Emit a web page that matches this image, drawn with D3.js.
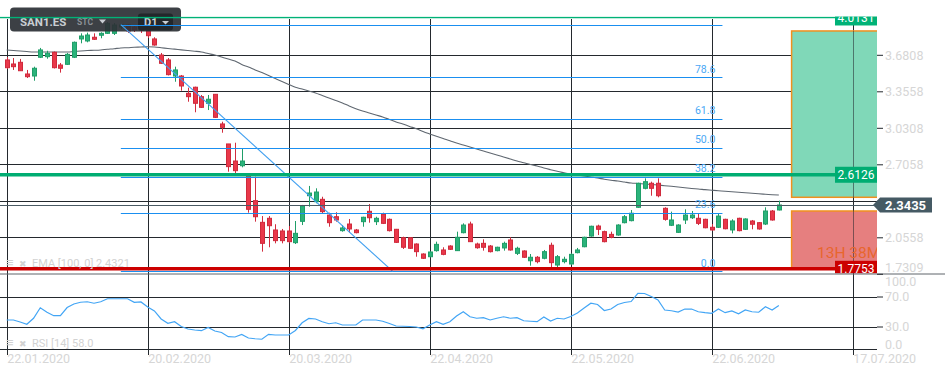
<!DOCTYPE html>
<html>
<head>
<meta charset="utf-8">
<script src="https://d3js.org/d3.v7.min.js"></script>
<style>
  body { margin: 0; background: #fff; }
  svg { display: block; font-family: Roboto, "Liberation Sans", sans-serif; }
</style>
</head>
<body>
<div class="chart"></div>
<script>
// daily candles, SAN1.ES  [open, high, low, close]
const candles = [
  [3.635,3.661,3.555,3.566],[3.599,3.652,3.546,3.575],[3.614,3.644,3.537,3.539],[3.510,3.546,3.474,3.486],
  [3.492,3.575,3.450,3.561],[3.659,3.742,3.652,3.724],[3.664,3.717,3.646,3.694],[3.703,3.710,3.559,3.566],
  [3.590,3.608,3.522,3.561],[3.596,3.697,3.590,3.685],[3.659,3.799,3.652,3.792],[3.822,3.872,3.783,3.848],
  [3.804,3.878,3.792,3.857],[3.837,3.872,3.813,3.819],[3.855,3.881,3.828,3.872],[3.872,3.973,3.866,3.961],
  [3.872,3.964,3.857,3.946],[3.928,3.955,3.911,3.946],[3.946,3.951,3.875,3.893],[3.928,3.946,3.884,3.902],
  [3.937,3.946,3.875,3.902],[3.902,3.920,3.831,3.851],[3.822,3.837,3.762,3.768],[3.679,3.697,3.599,3.605],
  [3.635,3.652,3.497,3.504],[3.492,3.575,3.441,3.546],[3.492,3.501,3.361,3.403],[3.338,3.388,3.263,3.308],
  [3.392,3.397,3.169,3.249],[3.308,3.323,3.207,3.213],[3.249,3.323,3.189,3.285],[3.329,3.332,3.118,3.124],
  [3.065,3.085,2.987,3.035],[2.887,2.887,2.640,2.685],[2.735,2.898,2.626,2.649],[2.693,2.842,2.679,2.735],
  [2.617,2.617,2.275,2.305],[2.382,2.596,2.195,2.239],[2.189,2.245,1.928,2.002],[2.225,2.245,1.967,2.159],
  [2.121,2.172,2.002,2.026],[2.112,2.130,2.002,2.026],[2.112,2.156,2.008,2.017],[2.008,2.201,1.996,2.091],
  [2.198,2.344,2.165,2.335],[2.426,2.513,2.328,2.450],[2.373,2.492,2.359,2.459],[2.394,2.417,2.269,2.284],
  [2.254,2.275,2.150,2.186],[2.239,2.279,2.195,2.210],[2.115,2.165,2.106,2.139],[2.174,2.219,2.097,2.130],
  [2.121,2.130,2.091,2.097],[2.195,2.239,2.150,2.234],[2.287,2.352,2.186,2.230],[2.195,2.239,2.165,2.225],
  [2.263,2.275,2.174,2.180],[2.216,2.223,2.108,2.115],[2.127,2.130,2.005,2.011],[2.052,2.061,1.952,1.967],
  [2.052,2.058,1.952,1.958],[1.996,2.002,1.883,1.928],[1.907,1.913,1.863,1.869],[1.883,1.931,1.878,1.925],
  [1.937,2.017,1.928,1.993],[1.943,1.967,1.896,1.904],[1.978,1.985,1.943,1.949],[1.937,2.106,1.934,2.056],
  [2.097,2.180,2.091,2.165],[2.174,2.195,2.014,2.017],[1.996,2.008,1.954,1.963],[2.002,2.038,1.937,1.967],
  [1.978,1.987,1.921,1.928],[1.937,1.972,1.931,1.967],[1.961,2.017,1.937,2.002],[2.032,2.056,1.937,1.943],
  [1.913,1.972,1.898,1.958],[1.934,1.940,1.872,1.878],[1.847,1.907,1.803,1.878],[1.878,1.889,1.824,1.839],
  [1.869,1.943,1.860,1.928],[1.985,2.008,1.780,1.830],[1.809,1.898,1.776,1.883],[1.839,1.883,1.824,1.860],
  [1.818,1.913,1.809,1.904],[1.919,1.961,1.913,1.943],[1.972,2.061,1.967,2.056],[2.067,2.159,2.061,2.154],
  [2.156,2.168,2.076,2.127],[2.106,2.115,2.011,2.017],[2.082,2.106,2.047,2.056],[2.076,2.172,2.070,2.165],
  [2.186,2.254,2.180,2.239],[2.204,2.299,2.198,2.270],[2.323,2.542,2.317,2.537],[2.492,2.581,2.483,2.551],
  [2.537,2.551,2.426,2.492],[2.537,2.581,2.412,2.426],[2.314,2.323,2.204,2.216],[2.163,2.284,2.156,2.210],
  [2.100,2.172,2.094,2.165],[2.210,2.305,2.174,2.254],[2.230,2.290,2.219,2.254],[2.225,2.263,2.165,2.180],
  [2.216,2.221,2.136,2.141],[2.145,2.174,2.115,2.121],[2.145,2.270,2.139,2.245],[2.216,2.221,2.127,2.132],
  [2.121,2.216,2.091,2.201],[2.225,2.230,2.109,2.115],[2.127,2.225,2.121,2.219],[2.201,2.210,2.127,2.172],
  [2.186,2.192,2.124,2.130],[2.174,2.323,2.165,2.290],[2.290,2.299,2.204,2.210],[2.299,2.382,2.295,2.3435]
];

const ema100 = [
  3.724,3.719,3.715,3.710,3.706,3.706,3.706,3.706,3.706,3.706,3.710,3.715,3.719,3.721,3.724,3.730,
  3.735,3.742,3.744,3.748,3.750,3.753,3.750,3.744,3.737,3.731,3.725,3.719,3.713,3.706,3.692,3.679,
  3.661,3.643,3.626,3.594,3.572,3.546,3.523,3.497,3.470,3.443,3.417,3.392,3.376,3.359,3.341,3.318,
  3.296,3.274,3.252,3.225,3.201,3.181,3.163,3.145,3.127,3.105,3.083,3.065,3.043,3.023,2.998,2.976,
  2.955,2.935,2.916,2.895,2.878,2.860,2.842,2.824,2.806,2.789,2.771,2.753,2.735,2.720,2.704,2.691,
  2.673,2.658,2.644,2.630,2.620,2.611,2.602,2.593,2.584,2.573,2.564,2.557,2.548,2.539,2.535,2.530,
  2.526,2.521,2.515,2.510,2.504,2.497,2.490,2.486,2.480,2.475,2.470,2.466,2.461,2.457,2.452,2.448,
  2.443,2.439,2.435,2.4321
];

const rsi14 = [
  38.7,38.7,36,33,41,55,49,44.4,44.4,55.3,60,62.3,63,61,63,67,
  67,67,67,62.3,62.7,56,50.7,40,34.3,36.4,30,26.7,25.3,24.4,28.7,24,
  22,16.4,16,19.3,14.7,13.7,13,19.6,18.7,18.7,18.7,24.7,35,40.7,40,36.4,
  33.7,35,32,32,32,38.7,38.7,38.7,37,34,30.7,30.3,30,29.3,27,32,
  36.4,33,36.4,44,49.7,43,41,41.7,38.7,41,43,41,41.7,37.7,37,36.4,
  42.7,37.3,41,40,43.3,48,54.7,61,59.3,51.3,53.3,59.3,62,63.3,74.3,74,
  70,65.3,52,51,49.3,53.3,53.3,49.7,48.4,47.6,53.3,48.4,50.7,47,52,49.7,
  49,56.4,52,58
];

const dateLabels = ['22.01.2020', '20.02.2020', '20.03.2020', '22.04.2020', '22.05.2020', '22.06.2020', '17.07.2020'];
const dateIdx = [0, 21, 42, 63, 84, 105, 126];
const priceTicks = [3.6808, 3.3558, 3.0308, 2.7058, 2.3808, 2.0558, 1.7309];
const rsiTicks = [100, 70, 30, 0];

const fibLevels = [0, 23.6, 38.2, 50, 61.8, 78.6, 100];
const fibLow = 1.752, fibHigh = 3.95;
const fibFrom = 17, fibTo = 106.6, trendTo = 57.5;   // bar positions

const levelLines = [4.0131, 2.6126, 1.7753];
const lastPrice = 2.3435;
const takeProfit = [2.412, 3.893];
const stopLoss = [1.7753, 2.290];
const zoneFrom = 116.9;
const countdown = '13H 38M';

const W = 945, H = 376;
const paneR = 877, priceTop = 16.5, priceBot = 273.8;

const svg = d3.select('.chart').append('svg')
  .attr('width', W).attr('height', H);

const x = d3.scaleLinear().domain([0, 126]).range([6.7, 852.7]);
const y = d3.scaleLinear().domain([2.0558, 3.6808]).range([237.3, 54.8]);
const yR = d3.scaleLinear().domain([0, 100]).range([349, 274]);
const fmt4 = d3.format('.4f');
const crisp = v => Math.round(v) + 0.5;

svg.append('defs').append('clipPath').attr('id', 'pane')
  .append('rect').attr('x', 0).attr('y', priceTop)
  .attr('width', paneR).attr('height', priceBot - priceTop - 0.5);

//grid
const grid = svg.append('g').attr('stroke', '#24292e').attr('stroke-width', 1);
grid.selectAll('line.h').data(priceTicks.slice(0, -1)).join('line')
  .attr('x1', 0).attr('x2', paneR)
  .attr('y1', d => crisp(y(d))).attr('y2', d => crisp(y(d)));
grid.selectAll('line.r').data([70, 30]).join('line')
  .attr('x1', 0).attr('x2', paneR)
  .attr('y1', d => crisp(yR(d))).attr('y2', d => crisp(yR(d)));
grid.append('line').attr('x1', 0).attr('x2', paneR)
  .attr('y1', crisp(yR(0))).attr('y2', crisp(yR(0)));
grid.selectAll('line.v').data(dateIdx).join('line')
  .attr('x1', d => crisp(x(d))).attr('x2', d => crisp(x(d)))
  .attr('y1', 19).attr('y2', 355);

const plot = svg.append('g').attr('clip-path', 'url(#pane)');

//EMA
plot.append('path')
  .datum(ema100)
  .attr('fill', 'none').attr('stroke', '#5f6770').attr('stroke-width', 1.1)
  .attr('d', d3.line().x((d, i) => x(i)).y(d => y(d)).curve(d3.curveMonotoneX));

//candles
const up = c => c[3] >= c[0];
const bars = plot.append('g').selectAll('g').data(candles).join('g');
bars.append('line')
  .attr('x1', (d, i) => crisp(x(i))).attr('x2', (d, i) => crisp(x(i)))
  .attr('y1', d => y(d[1])).attr('y2', d => y(d[2]))
  .attr('stroke', d => up(d) ? '#1f9e68' : '#d22c3e');
bars.append('rect')
  .attr('x', (d, i) => Math.round(x(i)) - 1.5)
  .attr('width', 4)
  .attr('y', d => y(Math.max(d[0], d[3])))
  .attr('height', d => Math.max(1, Math.abs(y(d[0]) - y(d[3]))))
  .attr('fill', d => up(d) ? '#2bb37b' : '#e9384a')
  .attr('stroke', d => up(d) ? '#1f9e68' : '#cf2a3c');

//symbol header
const hdr = svg.append('g');
hdr.append('rect').attr('x', 10).attr('y', 7.5).attr('width', 171).attr('height', 24)
  .attr('rx', 4).attr('fill', '#2d3237').attr('opacity', 0.93);
hdr.append('text').attr('x', 20).attr('y', 26).text('SAN1.ES')
  .attr('fill', '#c9ced3').style('font-size', '11.5px').style('font-weight', 'bold');
hdr.append('text').attr('x', 77).attr('y', 25.3).text('STC')
  .attr('fill', '#8b9197').style('font-size', '8.5px').style('font-weight', 'bold');
hdr.append('path').attr('d', 'M99,19.5L106,19.5L102.5,23.5Z').attr('fill', '#c9ced3');
hdr.append('rect').attr('x', 138).attr('y', 13.5).attr('width', 35).attr('height', 17)
  .attr('rx', 3).attr('fill', '#23272b');
hdr.append('text').attr('x', 144).attr('y', 26).text('D1')
  .attr('fill', '#c9ced3').style('font-size', '11px').style('font-weight', 'bold');
hdr.append('path').attr('d', 'M162,21L169,21L165.5,24.5Z').attr('fill', '#c9ced3');

const over = svg.append('g').attr('clip-path', 'url(#pane)');

//position zones
[[takeProfit, '#80d8b8'], [stopLoss, '#e67f7f']].forEach(([z, col]) => {
  over.append('rect')
    .attr('x', x(zoneFrom)).attr('width', paneR + 5 - x(zoneFrom))
    .attr('y', y(z[1])).attr('height', y(z[0]) - y(z[1]))
    .attr('fill', col).attr('stroke', '#f0901e').attr('stroke-width', 1.5);
});
over.append('line')
  .attr('x1', crisp(x(126))).attr('x2', crisp(x(126)))
  .attr('y1', y(takeProfit[1])).attr('y2', priceBot)
  .attr('stroke', '#24292e').attr('opacity', 0.55);
over.append('text').attr('x', 817).attr('y', 258.3).text(countdown)
  .attr('fill', '#e8662e').style('font-size', '15.5px');

//fibonacci retracement
const fibPrice = l => fibLow + (fibHigh - fibLow) * l / 100;
over.selectAll('line.fib').data(fibLevels).join('line')
  .attr('x1', x(fibFrom)).attr('x2', x(fibTo))
  .attr('y1', d => crisp(y(fibPrice(d)))).attr('y2', d => crisp(y(fibPrice(d))))
  .attr('stroke', '#1a8ff0').attr('stroke-width', 1);
over.selectAll('text.fib').data(fibLevels.filter(d => d < 100)).join('text')
  .attr('x', x(fibTo) - 7).attr('y', d => y(fibPrice(d)) - 4.7)
  .attr('text-anchor', 'end').text(d => d.toFixed(1))
  .attr('fill', '#4aa8f5').style('font-size', '10.5px');
over.append('line')
  .attr('x1', x(fibFrom)).attr('y1', y(fibHigh))
  .attr('x2', x(trendTo)).attr('y2', y(fibLow))
  .attr('stroke', '#3f9ff0').attr('stroke-width', 1.1);

//level lines
const levelColor = ['#00b277', '#00ad72', '#cc0000'];
const levelWidth = [1.5, 3.5, 3.5];
levelLines.forEach((v, i) => {
  over.append('line').attr('x1', 0).attr('x2', 835)
    .attr('y1', y(v)).attr('y2', y(v))
    .attr('stroke', levelColor[i]).attr('stroke-width', levelWidth[i]);
  over.append('rect').attr('x', 835).attr('y', y(v) - 8).attr('width', 42).attr('height', 16)
    .attr('fill', levelColor[i]);
  over.append('text').attr('x', 856).attr('y', y(v) + 4.3).attr('text-anchor', 'middle')
    .text(fmt4(v)).attr('fill', '#fff').style('font-size', '12px');
});

//last price line
svg.append('line').attr('x1', 0).attr('x2', paneR)
  .attr('y1', crisp(y(lastPrice))).attr('y2', crisp(y(lastPrice)))
  .attr('stroke', '#4a5a63').attr('stroke-width', 1);

//pane separator
svg.append('line').attr('x1', 0).attr('x2', W)
  .attr('y1', crisp(priceBot) - 0.5).attr('y2', crisp(priceBot) - 0.5)
  .attr('stroke', '#5e656b').attr('stroke-width', 1);

//axes
const axisText = '#d6d6d6';
const yAxis = svg.append('g').attr('transform', `translate(${paneR},0)`)
  .call(d3.axisRight(y).tickValues(priceTicks)
    .tickFormat(d => d === 2.3808 ? '' : fmt4(d))   // covered by the last price tag
    .tickSize(6).tickPadding(2));
yAxis.select('.domain').remove();
yAxis.selectAll('line').attr('stroke', '#24292e');
yAxis.selectAll('text').attr('fill', axisText).style('font-size', '12.5px')
  .attr('dy', d => (y(d) > priceBot - 6 ? priceBot - 6.3 - y(d) : 0) + 4.4);

const rAxis = svg.append('g').attr('transform', `translate(${paneR},0)`)
  .call(d3.axisRight(yR).tickValues(rsiTicks).tickFormat(d3.format('.1f')).tickSize(6).tickPadding(2));
rAxis.select('.domain').remove();
rAxis.selectAll('line').attr('stroke', d => (d === 0 || d === 100) ? 'none' : '#24292e');
rAxis.selectAll('text').attr('fill', axisText).style('font-size', '12.5px')
  .attr('dy', d => (d === 100 ? 7.5 : d === 0 ? -4.5 : 0) + 4.4);

const xAxis = svg.append('g').attr('transform', 'translate(0,349)')
  .call(d3.axisBottom(x).tickValues(dateIdx).tickFormat((d, i) => dateLabels[i]).tickSize(0));
xAxis.select('.domain').remove();
xAxis.selectAll('text').attr('fill', axisText).style('font-size', '12.5px')
  .attr('text-anchor', 'start').attr('y', 14).attr('dy', 0);
svg.selectAll('.tick text').style('font-family', 'Roboto, "Liberation Sans", sans-serif');

//last price tag
const ly = y(lastPrice);
svg.append('path')
  .attr('d', `M873,${ly}L880,${ly - 7.5}L932,${ly - 7.5}L932,${ly + 7.5}L880,${ly + 7.5}Z`)
  .attr('fill', '#455a64');
svg.append('text').attr('x', 885).attr('y', ly + 4.6).text(fmt4(lastPrice))
  .attr('fill', '#fff').style('font-size', '13px').style('font-weight', 'bold');

//RSI
svg.append('path')
  .datum(rsi14)
  .attr('fill', 'none').attr('stroke', '#42a5f5').attr('stroke-width', 1.2)
  .attr('d', d3.line().x((d, i) => x(i)).y(d => yR(d)));

//study legends
const legends = [
  [`EMA [100, 0] ${ema100[ema100.length - 1]}`, 266.5],
  [`RSI [14] ${rsi14[rsi14.length - 1].toFixed(1)}`, 347]
];
const lg = svg.append('g').attr('fill', '#d2d2d2');
legends.forEach(([t, ty]) => {
  lg.append('text').attr('x', 6).attr('y', ty).text('\u2261').style('font-size', '13px');
  lg.append('text').attr('x', 19).attr('y', ty).text('\u2716').style('font-size', '9px');
  lg.append('text').attr('x', 32).attr('y', ty).text(t).style('font-size', '11px');
});
</script>
</body>
</html>
